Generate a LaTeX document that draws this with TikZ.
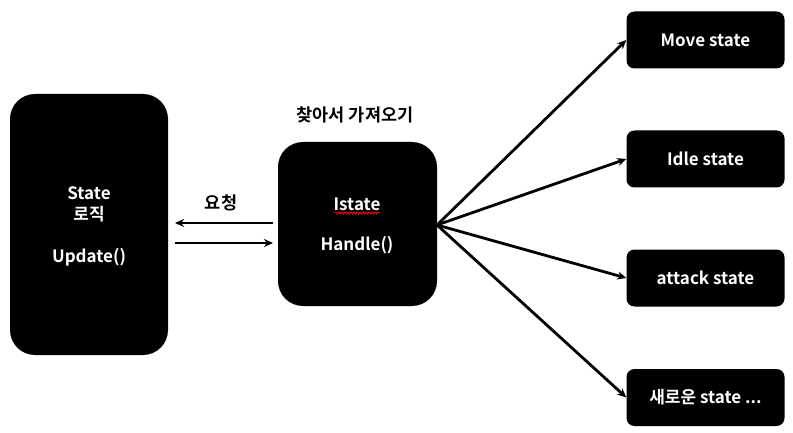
\documentclass[tikz,border=0pt]{standalone}
\usepackage{fontspec}
\setmainfont{Noto Sans CJK KR}[BoldFont={Noto Sans CJK KR Bold}]
\usetikzlibrary{arrows.meta,decorations.pathmorphing}
\tikzset{
  bigbox/.style={fill=black, rounded corners=25pt, draw=none},
  smallbox/.style={fill=black, rounded corners=8pt, draw=none, minimum width=158pt, minimum height=57pt, text=white, font=\bfseries\fontsize{17}{20}\selectfont},
  lbl/.style={text=white, font=\bfseries\fontsize{17}{20}\selectfont, inner sep=0pt},
  blbl/.style={font=\bfseries\fontsize{17.5}{20}\selectfont, inner sep=0pt},
  conn/.style={line width=2.8pt, -{Stealth[length=9pt,width=8pt]}},
}
\begin{document}
\begin{tikzpicture}[x=1pt,y=-1pt]
\useasboundingbox (0,0) rectangle (793,433);
% left box
\path[bigbox] (10,94) rectangle (168,355);
\node[lbl] (st) at (89,193) {State};
\node[lbl] (lj) at (89,214) {로직};
\node[lbl] (up) at (89,257) {Update()};
% middle box
\path[bigbox] (278,142) rectangle (437,306);
\node[lbl] (is) at (357,204) {Istate};
\node[lbl] (hd) at (357,245) {Handle()};
\draw[red, line width=0.9pt, decorate, decoration={snake, amplitude=1pt, segment length=3pt}] (335,213) -- (380,213);
\coordinate (M) at (437,225);
% right boxes
\node[smallbox] (mv) at (705.5,40) {Move state};
\node[smallbox] (id) at (705.5,159) {Idle state};
\node[smallbox] (at) at (705.5,278) {attack state};
\node[smallbox] (nw) at (705.5,397.5) {새로운 state ...};
% labels
\node[blbl] (req) at (221,203) {요청};
\node[blbl] (find) at (355,115) {찾아서 가져오기};
% arrows
\coordinate (a1s) at (273,223);
\coordinate (a1e) at (175,223);
\coordinate (a2s) at (175,243);
\coordinate (a2e) at (273,243);
\draw[conn] (a1s) -- (a1e);
\draw[conn] (a2s) -- (a2e);
\draw[conn] (M) -- (mv.west);
\draw[conn] (M) -- (id.west);
\draw[conn] (M) -- (at.west);
\draw[conn] (M) -- (nw.west);
\end{tikzpicture}
\end{document}
